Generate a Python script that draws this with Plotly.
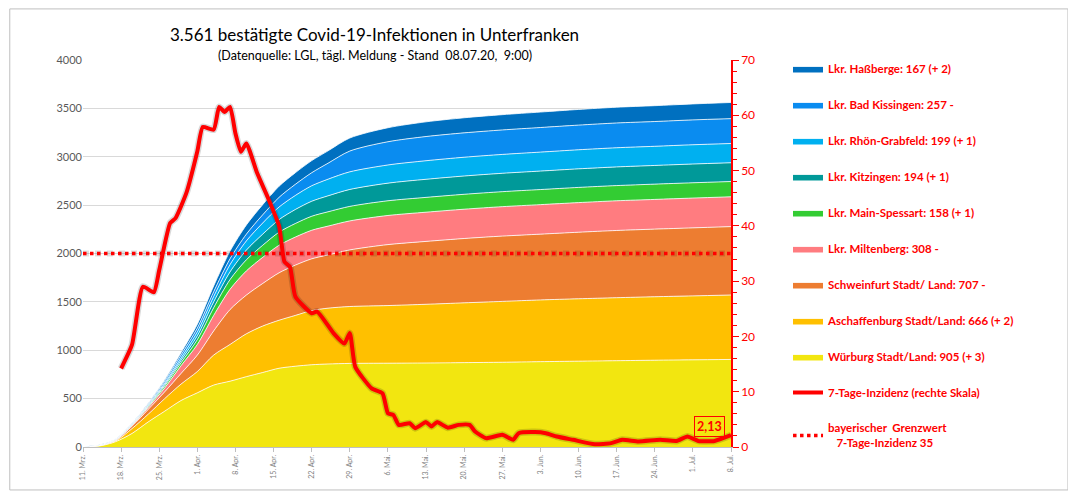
import plotly.graph_objects as go

stack_dates = ['2020-03-11', '2020-03-14', '2020-03-17', '2020-03-20', '2020-03-23', '2020-03-26',
               '2020-03-29', '2020-04-01', '2020-04-04', '2020-04-07', '2020-04-10', '2020-04-13',
               '2020-04-16', '2020-04-19', '2020-04-22', '2020-04-25', '2020-04-29', '2020-05-06',
               '2020-05-13', '2020-05-20', '2020-05-27', '2020-06-03', '2020-06-10', '2020-06-17',
               '2020-06-24', '2020-07-01', '2020-07-08']

wuerzburg = [2, 10, 55, 140, 260, 370, 480, 560, 640, 680, 727, 770, 814, 835, 850, 858, 864, 866,
             868, 872, 876, 882, 887, 892, 897, 901, 905]
aschaffenburg = [1, 4, 7, 50, 80, 130, 170, 220, 310, 380, 443, 480, 496, 525, 560, 577, 588, 596,
                 607, 618, 629, 638, 645, 651, 656, 661, 666]
schweinfurt = [1, 3, 8, 25, 50, 70, 110, 170, 250, 360, 400, 440, 490, 520, 535, 550, 585, 630,
               650, 665, 675, 680, 688, 695, 699, 703, 707]
miltenberg = [1, 1, 4, 10, 20, 40, 80, 110, 160, 210, 250, 270, 285, 290, 295, 298, 300, 301,
              302, 303, 304, 305, 306, 307, 307, 308, 308]
main_spessart = [0, 1, 2, 5, 10, 20, 30, 50, 80, 100, 115, 125, 135, 140, 145, 148, 150, 152,
                 153, 154, 155, 156, 157, 157, 158, 158, 158]
kitzingen = [0, 1, 1, 3, 8, 15, 25, 40, 60, 80, 100, 115, 130, 145, 155, 165, 175, 182,
             187, 189, 190, 191, 192, 193, 193, 194, 194]
rhoen_grabfeld = [0, 0, 1, 3, 8, 15, 25, 40, 55, 75, 95, 115, 130, 145, 160, 172, 182, 188,
                  192, 194, 195, 196, 197, 198, 198, 199, 199]
bad_kissingen = [0, 1, 2, 5, 10, 20, 30, 40, 50, 60, 70, 85, 100, 115, 135, 165, 215, 240,
                 250, 252, 253, 254, 255, 256, 256, 257, 257]
hassberge = [1, 1, 2, 4, 8, 15, 25, 40, 60, 80, 95, 105, 115, 120, 125, 128, 135, 145,
             152, 156, 158, 160, 162, 163, 164, 165, 167]

incidence_dates = ['2020-03-18', '2020-03-20', '2020-03-22', '2020-03-24', '2020-03-25', '2020-03-27',
                   '2020-03-28', '2020-03-30', '2020-04-01', '2020-04-02', '2020-04-04', '2020-04-05',
                   '2020-04-06', '2020-04-07', '2020-04-08', '2020-04-09', '2020-04-10', '2020-04-12',
                   '2020-04-14', '2020-04-16', '2020-04-17', '2020-04-18', '2020-04-19', '2020-04-22',
                   '2020-04-23', '2020-04-26', '2020-04-28', '2020-04-29', '2020-04-30', '2020-05-03',
                   '2020-05-05', '2020-05-06', '2020-05-07', '2020-05-08', '2020-05-10', '2020-05-11',
                   '2020-05-13', '2020-05-14', '2020-05-15', '2020-05-17', '2020-05-19', '2020-05-21',
                   '2020-05-22', '2020-05-24', '2020-05-27', '2020-05-29', '2020-05-30', '2020-06-02',
                   '2020-06-04', '2020-06-06', '2020-06-09', '2020-06-13', '2020-06-16', '2020-06-18',
                   '2020-06-21', '2020-06-25', '2020-06-28', '2020-06-30', '2020-07-02', '2020-07-05',
                   '2020-07-08']
incidence = [14.2, 18.5, 29.0, 28.0, 32.0, 40.5, 41.4, 46.0, 53.5, 57.9, 57.4, 61.5, 60.6, 61.5,
             56.7, 53.4, 54.9, 49.5, 45.0, 40.0, 33.5, 32.6, 27.2, 24.2, 24.5, 20.6, 18.7, 20.6,
             14.5, 10.6, 9.7, 6.1, 5.8, 4.0, 4.3, 3.4, 4.5, 3.7, 4.5, 3.5, 4.0, 4.0, 2.8, 1.6,
             2.2, 1.3, 2.5, 2.7, 2.5, 1.9, 1.3, 0.5, 0.7, 1.3, 1.0, 1.3, 1.1, 1.9, 1.1, 1.1, 2.13]

threshold = 35

tick_dates = ['2020-03-11', '2020-03-18', '2020-03-25', '2020-04-01', '2020-04-08', '2020-04-15',
              '2020-04-22', '2020-04-29', '2020-05-06', '2020-05-13', '2020-05-20', '2020-05-27',
              '2020-06-03', '2020-06-10', '2020-06-17', '2020-06-24', '2020-07-01', '2020-07-08']
tick_labels = ['11. Mrz.', '18. Mrz.', '25. Mrz.', '1. Apr.', '8. Apr.', '15. Apr.', '22. Apr.',
               '29. Apr.', '6. Mai.', '13. Mai.', '20. Mai.', '27. Mai.', '3. Jun.', '10. Jun.',
               '17. Jun.', '24. Jun.', '1. Jul.', '8. Jul.']

FONT = 'Lato'
RED = '#ff0000'


def add_districts(fig):
    # bottom layer first, legend shows them top-down via legendrank
    districts = [
        ('Würburg Stadt/Land: 905 (+ 3)', wuerzburg, '#f2e610'),
        ('Aschaffenburg Stadt/Land: 666 (+ 2)', aschaffenburg, '#ffc000'),
        ('Schweinfurt Stadt/ Land: 707 -', schweinfurt, '#ed7d31'),
        ('Lkr. Miltenberg: 308 -', miltenberg, '#ff7c80'),
        ('Lkr. Main-Spessart: 158 (+ 1)', main_spessart, '#33cc33'),
        ('Lkr. Kitzingen: 194 (+ 1)', kitzingen, '#009999'),
        ('Lkr. Rhön-Grabfeld: 199 (+ 1)', rhoen_grabfeld, '#00b0f0'),
        ('Lkr. Bad Kissingen: 257 -', bad_kissingen, '#0a8cf0'),
        ('Lkr. Haßberge: 167 (+ 2)', hassberge, '#0070c0'),
    ]
    for rank, (name, values, color) in enumerate(districts):
        fig.add_trace(go.Scatter(
            x=stack_dates, y=values, name=name, stackgroup='cases',
            mode='lines', line=dict(color='white', width=0.8, shape='spline', smoothing=0.8),
            fillcolor=color, legendgroup=name, legendrank=100 - rank))


def main():
    fig = go.Figure()
    add_districts(fig)

    fig.add_trace(go.Scatter(
        x=[stack_dates[0], stack_dates[-1]], y=[threshold, threshold], yaxis='y2',
        mode='lines', line=dict(color='rgba(0,0,0,0.12)', width=6, dash='dot'),
        showlegend=False, hoverinfo='skip'))
    fig.add_trace(go.Scatter(
        x=[stack_dates[0], stack_dates[-1]], y=[threshold, threshold], yaxis='y2',
        name='bayerischer  Grenzwert<br>   7-Tage-Inzidenz 35', mode='lines',
        line=dict(color=RED, width=3.5, dash='dot'), legendgroup='grenz', legendrank=120))

    fig.add_trace(go.Scatter(
        x=incidence_dates, y=incidence, yaxis='y2', mode='lines', showlegend=False,
        line=dict(color='rgba(0,0,0,0.15)', width=7, shape='spline', smoothing=0.5),
        hoverinfo='skip'))
    fig.add_trace(go.Scatter(
        x=incidence_dates, y=incidence, yaxis='y2', name='7-Tage-Inzidenz (rechte Skala)',
        mode='lines', line=dict(color=RED, width=4, shape='spline', smoothing=0.5),
        legendgroup='inz', legendrank=110))

    fig.update_layout(
        width=1076, height=501,
        margin=dict(l=75, r=353, t=52, b=62),
        paper_bgcolor='white', plot_bgcolor='white',
        font=dict(family=FONT, color='#595959'),
        showlegend=True,
        legend=dict(x=1.088, y=1.0155, xanchor='left', yanchor='top',
                    font=dict(family=FONT, size=11.5, color=RED, weight='bold'),
                    tracegroupgap=17, itemwidth=30, bgcolor='rgba(0,0,0,0)',
                    maxheight=480),
        xaxis=dict(type='date', range=[stack_dates[0], stack_dates[-1]],
                   tickvals=tick_dates, ticktext=tick_labels, tickangle=-90,
                   tickfont=dict(size=7, color='#7f7f7f'), ticks='outside', ticklen=4,
                   tickcolor='#bfbfbf', showline=True, linecolor='#bfbfbf', showgrid=False),
        yaxis=dict(range=[0, 4000], dtick=500, showgrid=True, gridcolor='#d9d9d9',
                   tickfont=dict(size=11, color='#595959'), zeroline=False, ticks='',
                   ticklen=0),
        yaxis2=dict(overlaying='y', side='right', range=[0, 70], dtick=10, showgrid=False,
                    zeroline=False, showline=True, linecolor=RED, linewidth=1.5,
                    ticks='outside', tickcolor=RED, ticklen=6,
                    minor=dict(dtick=2, ticks='outside', ticklen=4, tickcolor=RED),
                    tickfont=dict(size=12, color=RED)),
        annotations=[
            dict(text='3.561 bestätigte Covid-19-Infektionen in Unterfranken',
                 xref='paper', yref='paper', x=0.4506, y=1.098, showarrow=False,
                 font=dict(family=FONT, size=17, color='black')),
            dict(text='(Datenquelle: LGL, tägl. Meldung - Stand  08.07.20,  9:00)',
                 xref='paper', yref='paper', x=0.4506, y=1.036, showarrow=False,
                 font=dict(family=FONT, size=12.5, color='black')),
            dict(text='<b>2,13</b>', x='2020-07-04', y=3.7, xref='x', yref='y2',
                 showarrow=False, font=dict(family=FONT, size=12.5, color=RED),
                 bordercolor=RED, borderwidth=1, borderpad=2),
        ],
        shapes=[dict(type='rect', xref='paper', yref='paper', x0=-0.113, x1=1.52,
                     y0=-0.111, y1=1.132, line=dict(color='#bfbfbf', width=1))],
    )

    fig.write_html('out.html')


if __name__ == '__main__':
    main()
